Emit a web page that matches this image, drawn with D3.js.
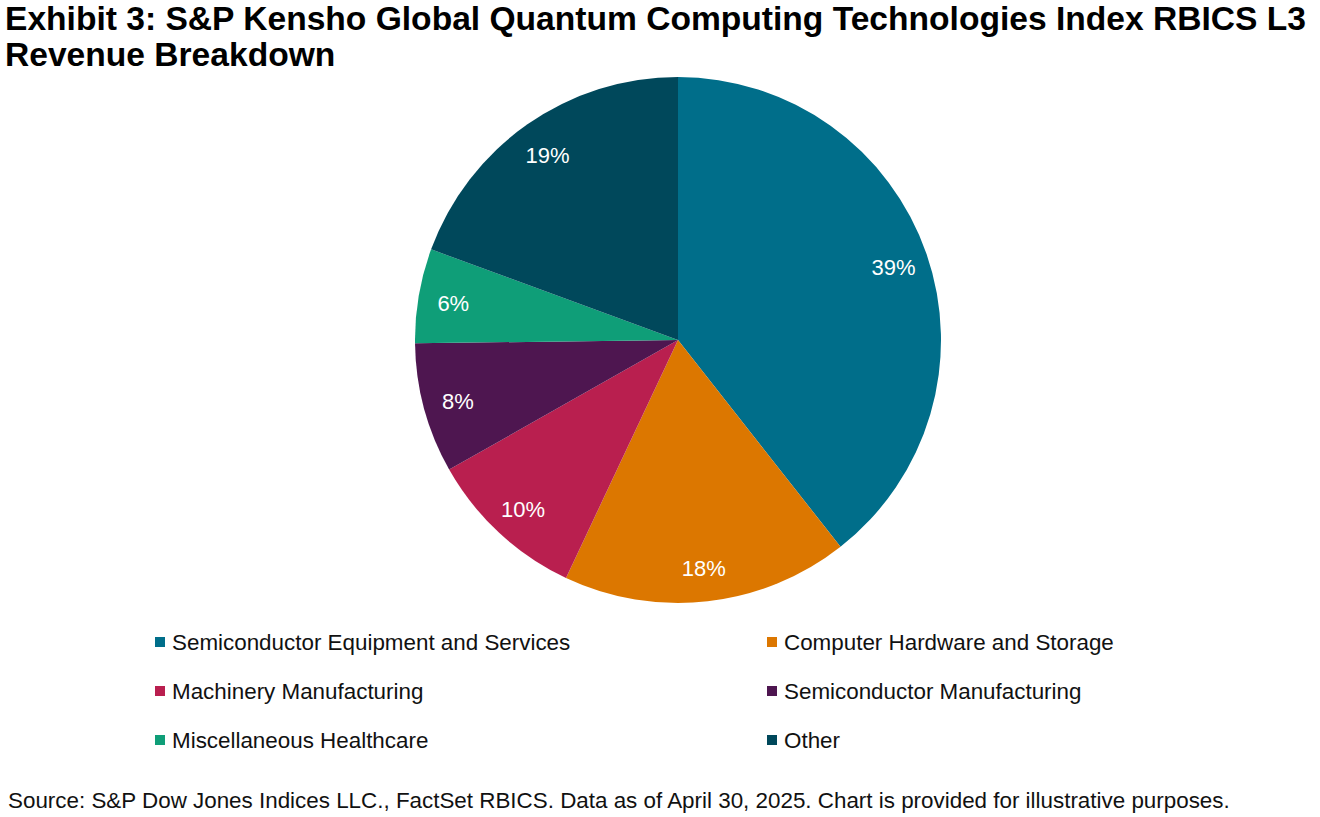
<!DOCTYPE html>
<html>
<head>
<meta charset="utf-8">
<script src="https://cdn.jsdelivr.net/npm/d3@7"></script>
<style>
  body { margin: 0; background: #fff; }
  svg { display: block; font-family: "Liberation Sans", Arial, sans-serif; }
</style>
</head>
<body>
<div id="chart"></div>
<script>
// data
var categories = ["Semiconductor Equipment and Services", "Computer Hardware and Storage",
    "Machinery Manufacturing", "Semiconductor Manufacturing", "Miscellaneous Healthcare", "Other"];
var shares = [39.4, 17.6, 9.8, 8.0, 5.8, 19.4];
var colors = ["#006e8a", "#dc7700", "#b91f4f", "#4e1650", "#0f9e78", "#00485b"];

var width = 1320, height = 817;
var cx = 678, cy = 340, radius = 263;

var svg = d3.select("#chart").append("svg")
    .attr("width", width)
    .attr("height", height);

svg.append("text")
    .attr("x", 5).attr("y", 30)
    .style("font-size", "33.6px").style("font-weight", "bold")
    .text("Exhibit 3: S&P Kensho Global Quantum Computing Technologies Index RBICS L3");
svg.append("text")
    .attr("x", 5).attr("y", 66)
    .style("font-size", "33.6px").style("font-weight", "bold")
    .text("Revenue Breakdown");

var data = categories.map(function(c, i) { return { name: c, value: shares[i], color: colors[i] }; });

var pie = d3.pie().sort(null).value(function(d) { return d.value; });
var arc = d3.arc().innerRadius(0).outerRadius(radius);
var labelArc = d3.arc().innerRadius(228).outerRadius(228);

var g = svg.append("g").attr("transform", "translate(" + cx + "," + cy + ")");
var slices = g.selectAll(".slice").data(pie(data)).enter().append("g").attr("class", "slice");

slices.append("path")
    .attr("d", arc)
    .attr("fill", function(d) { return d.data.color; });

slices.append("text")
    .attr("transform", function(d) { return "translate(" + labelArc.centroid(d) + ")"; })
    .attr("text-anchor", "middle")
    .attr("dy", "0.45em")
    .attr("fill", "#fff")
    .style("font-size", "22px")
    .text(function(d) { return Math.round(d.data.value) + "%"; });

// legend, two columns
var legend = svg.append("g");
var items = legend.selectAll(".item").data(data).enter().append("g")
    .attr("class", "item")
    .attr("transform", function(d, i) {
        var col = i % 2, row = Math.floor(i / 2);
        return "translate(" + (col === 0 ? 155 : 767) + "," + (642 + row * 49) + ")";
    });
items.append("rect")
    .attr("x", 0).attr("y", -5)
    .attr("width", 10).attr("height", 10)
    .attr("fill", function(d) { return d.color; });
items.append("text")
    .attr("x", 17).attr("y", 8)
    .style("font-size", "22.4px")
    .attr("fill", "#111")
    .text(function(d) { return d.name; });

svg.append("text")
    .attr("x", 8).attr("y", 808)
    .style("font-size", "22.4px")
    .attr("fill", "#111")
    .text("Source: S&P Dow Jones Indices LLC., FactSet RBICS. Data as of April 30, 2025. Chart is provided for illustrative purposes.");
</script>
</body>
</html>
